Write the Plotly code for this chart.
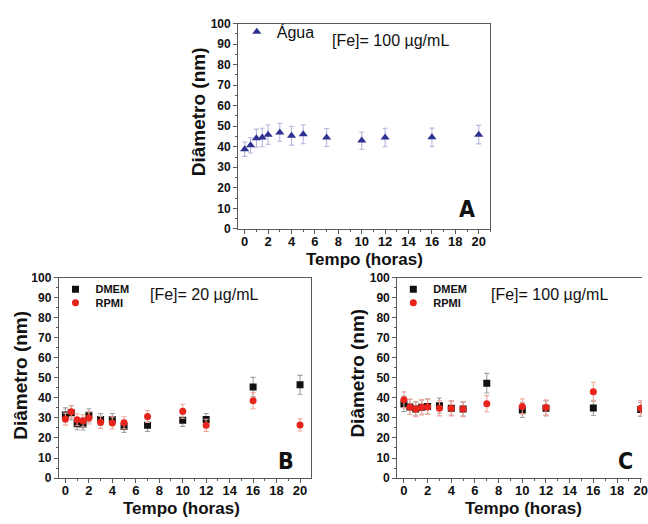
import plotly.graph_objects as go

W, H = 648, 524

# ---------------- data ----------------
time_a = [0, 0.5, 1, 1.5, 2, 3, 4, 5, 7, 10, 12, 16, 20]
agua_d = [38.8, 40.7, 44.2, 44.5, 45.9, 47.0, 45.4, 46.1, 44.5, 43.0, 44.5, 44.6, 45.9]
agua_e = [3.5, 3.7, 4.4, 4.5, 4.7, 4.3, 4.6, 4.6, 4.4, 4.2, 4.5, 4.5, 4.5]

time_b = [0, 0.5, 1, 1.5, 2, 3, 4, 5, 7, 10, 12, 16, 20]
dmem20_d = [31.5, 32.6, 27.1, 27.0, 31.3, 29.2, 29.2, 25.8, 26.3, 28.8, 29.2, 45.4, 46.5]
dmem20_e = [3.5, 3.5, 3.0, 3.0, 3.3, 3.0, 3.0, 3.0, 3.0, 3.0, 3.0, 4.8, 4.7]
rpmi20_d = [29.4, 33.1, 29.1, 28.6, 30.0, 27.8, 27.5, 27.6, 30.7, 33.3, 26.3, 38.6, 26.5]
rpmi20_e = [3.0, 3.0, 3.0, 3.0, 3.0, 3.0, 3.0, 3.0, 3.0, 3.5, 3.0, 4.0, 3.0]

time_c = [0, 0.5, 1, 1.5, 2, 3, 4, 5, 7, 10, 12, 16, 20]
dmem100_d = [37.0, 35.5, 34.5, 35.3, 35.7, 36.1, 34.8, 34.4, 47.3, 34.0, 34.8, 35.0, 34.2]
dmem100_e = [3.8, 3.8, 3.5, 3.5, 3.8, 3.8, 3.5, 3.5, 4.9, 3.8, 3.8, 3.8, 3.5]
rpmi100_d = [39.0, 35.5, 34.4, 35.3, 35.5, 34.8, 34.8, 34.4, 37.1, 35.7, 35.2, 43.0, 34.8]
rpmi100_e = [4.0, 3.8, 3.8, 3.8, 3.8, 3.8, 3.8, 3.8, 4.0, 3.8, 3.8, 4.8, 3.8]

x_ticks = list(range(0, 21, 2))
y_ticks = list(range(0, 101, 10))

# ---------------- helpers ----------------
def px(x):
    return x / W

def py(y):
    return 1 - y / H

FONT = "Liberation Sans, Arial, sans-serif"
NARROW = "Liberation Sans Narrow, Arial Narrow, DejaVu Sans Condensed, sans-serif"
LINE = "#5a5a5a"

BLUE = "#2e3192"
BLUE_ERR = "#b6b6dc"
BLACK = "#111111"
BLACK_ERR = "#a0a0a0"
RED = "#e8251c"
RED_ERR = "#f2a89c"

fig = go.Figure()

def err(vals, color):
    return dict(type="data", array=vals, visible=True, color=color, thickness=1.1, width=2.5)

fig.add_trace(go.Scatter(x=time_a, y=agua_d, error_y=err(agua_e, BLUE_ERR), mode="markers",
                         name="Água", marker=dict(symbol="triangle-up", size=8, color=BLUE),
                         xaxis="x", yaxis="y", legend="legend", showlegend=True))

fig.add_trace(go.Scatter(x=time_b, y=dmem20_d, error_y=err(dmem20_e, BLACK_ERR), mode="markers",
                         name="DMEM", marker=dict(symbol="square", size=7, color=BLACK),
                         xaxis="x2", yaxis="y2", legend="legend2", showlegend=True))
fig.add_trace(go.Scatter(x=time_b, y=rpmi20_d, error_y=err(rpmi20_e, RED_ERR), mode="markers",
                         name="RPMI", marker=dict(symbol="circle", size=7, color=RED),
                         xaxis="x2", yaxis="y2", legend="legend3", showlegend=True))

fig.add_trace(go.Scatter(x=time_c, y=dmem100_d, error_y=err(dmem100_e, BLACK_ERR), mode="markers",
                         name="DMEM", marker=dict(symbol="square", size=7, color=BLACK),
                         xaxis="x3", yaxis="y3", legend="legend4", showlegend=True))
fig.add_trace(go.Scatter(x=time_c, y=rpmi100_d, error_y=err(rpmi100_e, RED_ERR), mode="markers",
                         name="RPMI", marker=dict(symbol="circle", size=7, color=RED),
                         xaxis="x3", yaxis="y3", legend="legend5", showlegend=True))

def xax(domain, rng, anchor, mirror=True):
    return dict(domain=domain, range=rng, anchor=anchor, tickvals=x_ticks,
                showline=True, linecolor=LINE, linewidth=1.3, mirror=mirror,
                ticks="outside", ticklen=4, tickwidth=1.2, tickcolor=LINE,
                minor=dict(ticks="outside", ticklen=2, dtick=1, tick0=0, tickcolor=LINE, tickwidth=1),
                showgrid=False, zeroline=False, ticklabeloverflow="allow",
                ticklabelstandoff=-4,
                tickfont=dict(family=FONT, size=13, color="#111", weight="bold"))

def yax(domain, anchor, mirror=True):
    return dict(domain=domain, range=[0, 100], anchor=anchor, tickvals=y_ticks,
                showline=True, linecolor=LINE, linewidth=1.3, mirror=mirror,
                ticks="outside", ticklen=4, tickwidth=1.2, tickcolor=LINE,
                minor=dict(ticks="outside", ticklen=2, dtick=5, tick0=0, tickcolor=LINE, tickwidth=1),
                showgrid=False, zeroline=False,
                tickfont=dict(family=FONT, size=12, color="#111", weight="bold"))

ya = [py(228), py(17)]
yb = [py(484), py(278)]

def leg(x, y, size, weight):
    return dict(x=px(x), y=py(y), xanchor="left", yanchor="top", bgcolor="rgba(0,0,0,0)",
                font=dict(family=FONT, size=size, color="#111", weight=weight), itemwidth=30)

fig.update_layout(
    width=W, height=H, margin=dict(l=0, r=0, t=0, b=0),
    paper_bgcolor="white", plot_bgcolor="white", showlegend=True,
    xaxis=xax([px(240.5), px(495)], [-0.55, 21.0], "y"),
    yaxis=yax(ya, "x"),
    xaxis2=xax([px(59.5), px(313.5)], [-0.55, 20.9], "y2"),
    yaxis2=yax(yb, "x2"),
    xaxis3=xax([px(401), 1.0], [-0.56, 20.11], "y3", mirror=True),
    yaxis3=yax(yb, "x3", mirror=False),
    legend=leg(239, 8, 16, "normal"),
    legend2=leg(56, 275, 11, "bold"),
    legend3=leg(56, 289, 11, "bold"),
    legend4=leg(397, 275, 11, "bold"),
    legend5=leg(397, 289, 11, "bold"),
)

ann = []
def text(x, y, s, size, family=FONT, weight="normal", angle=0, xanchor="center"):
    ann.append(dict(x=px(x), y=py(y), xref="paper", yref="paper", text=s, showarrow=False,
                    xanchor=xanchor, yanchor="middle", textangle=angle,
                    font=dict(family=family, size=size, color="#111", weight=weight)))

# axis titles
text(368, 259, "Tempo (horas)", 17, weight="bold")
text(183, 515, "Tempo (horas)", 17, weight="bold")
text(528, 515, "Tempo (horas)", 17, weight="bold")
text(200, 108, "Diâmetro (nm)", 19, weight="bold", angle=-90)
text(21, 378, "Diâmetro (nm)", 19, weight="bold", angle=-90)
text(361, 376, "Diâmetro (nm)", 19, weight="bold", angle=-90)

# concentration labels
text(333, 34, "[Fe]= 100 µg/mL", 16, xanchor="left")
text(149, 295, "[Fe]= 20 µg/mL", 16, xanchor="left")
text(494, 295, "[Fe]= 100 µg/mL", 16, xanchor="left")

# panel letters
text(471, 208, "A", 23, family=NARROW, weight="bold")
text(289, 466, "B", 23, family=NARROW, weight="bold")
text(631, 466, "C", 23, family=NARROW, weight="bold")

fig.update_layout(annotations=ann)

post = (
    "document.documentElement.style.overflow='hidden';"
    "document.body.style.margin='0';"
    "document.body.style.overflow='hidden';"
    "document.querySelectorAll('.plotly-graph-div').forEach(function(e){e.style.overflow='hidden';});"
    "document.querySelectorAll('svg.main-svg').forEach(function(s){s.style.overflow='hidden';});"
)

fig.write_html("out.html", config={"displayModeBar": False}, post_script=post)
